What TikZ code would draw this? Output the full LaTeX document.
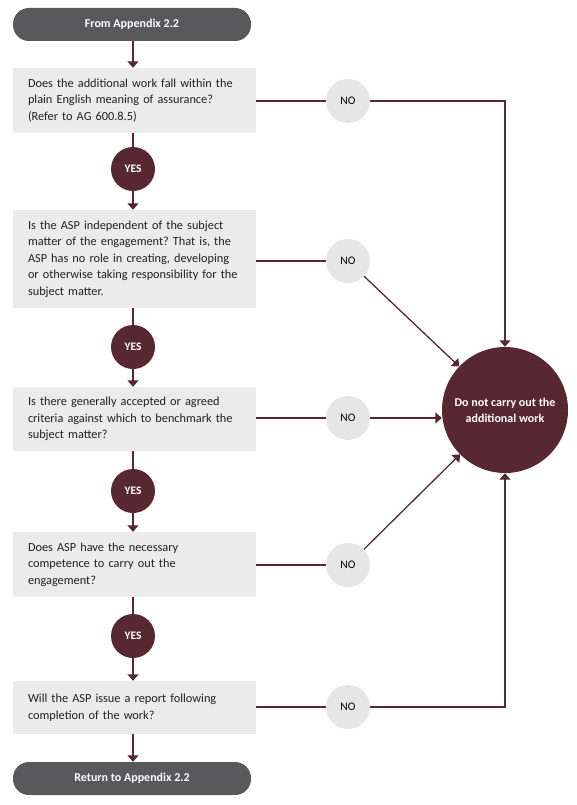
\documentclass[tikz,border=0pt]{standalone}
\usepackage{fontspec}
\setmainfont{Carlito}
\frenchspacing
\usetikzlibrary{arrows.meta,positioning}
\definecolor{maroon}{RGB}{88,40,50}
\definecolor{pillgrey}{RGB}{89,89,91}
\definecolor{boxgrey}{RGB}{235,235,235}
\definecolor{nogrey}{RGB}{230,230,230}
\definecolor{txt}{RGB}{35,31,32}
\tikzset{
  pill/.style={fill=pillgrey, rounded corners=16pt, minimum width=238pt, minimum height=33pt,
    text=white, font=\bfseries\fontsize{12}{14}\selectfont, inner sep=0pt},
  qbox/.style={fill=boxgrey, minimum width=243pt, text width=213pt, align=left, inner sep=0pt,
    text=txt, font=\fontsize{12.3}{16.5}\selectfont},
  yesc/.style={circle, fill=maroon, minimum size=44pt, inner sep=0pt, text=white,
    font=\bfseries\fontsize{11.5}{13}\selectfont},
  noc/.style={circle, fill=nogrey, minimum size=44pt, inner sep=0pt, text=black,
    font=\fontsize{11.5}{13}\selectfont},
  endc/.style={circle, fill=maroon, minimum size=126pt, inner sep=0pt, text=white, align=center,
    font=\bfseries\fontsize{12}{16}\selectfont},
  link/.style={draw=maroon, line width=1.3pt},
  arr/.style={link, -{Triangle[width=11pt,length=6.5pt]}}
}
\begin{document}
\begin{tikzpicture}[x=1pt,y=-1pt]
\useasboundingbox (0,0) rectangle (576,805);
% nodes
\node[pill] (start) at (132,24.5) {From Appendix 2.2};
\node[qbox, minimum height=65pt] (q1) at (134.5,100.5) {Does the additional work fall within the\\plain English meaning of assurance?\\(Refer to AG 600.8.5)};
\node[qbox, minimum height=98pt] (q2) at (134.5,259) {Is the ASP independent of the subject\\matter of the engagement? That is, the\\ASP has no role in creating, developing\\or otherwise taking responsibility for the\\subject matter.};
\node[qbox, minimum height=64pt] (q3) at (134.5,419) {Is there generally accepted or agreed\\criteria against which to benchmark the\\subject matter?};
\node[qbox, minimum height=65pt] (q4) at (134.5,564.5) {Does ASP have the necessary\\competence to carry out the\\engagement?};
\node[qbox, minimum height=53pt] (q5) at (134.5,707.5) {Will the ASP issue a report following\\completion of the work?};
\node[pill] (finish) at (132,778.5) {Return to Appendix 2.2};

\node[yesc] (y1) at (133,169) {YES};
\node[yesc] (y2) at (133,347) {YES};
\node[yesc] (y3) at (133,491) {YES};
\node[yesc] (y4) at (133,636) {YES};

\node[noc] (n1) at (348,101) {NO};
\node[noc] (n2) at (348,261) {NO};
\node[noc] (n3) at (348,418) {NO};
\node[noc] (n4) at (348,565) {NO};
\node[noc] (n5) at (348,707) {NO};

\node[endc] (stop) at (505,410) {Do not carry out the\\additional work};

% vertical flow
\draw[arr] (start.south -| y1) -- (q1.north -| y1);
\draw[link] (q1.south -| y1) -- (y1.north);
\draw[arr] (y1.south) -- (q2.north -| y1);
\draw[link] (q2.south -| y2) -- (y2.north);
\draw[arr] (y2.south) -- (q3.north -| y2);
\draw[link] (q3.south -| y3) -- (y3.north);
\draw[arr] (y3.south) -- (q4.north -| y3);
\draw[link] (q4.south -| y4) -- (y4.north);
\draw[arr] (y4.south) -- (q5.north -| y4);
\draw[arr] (q5.south -| y4) -- (finish.north -| y4);

% NO branches
\draw[link] (q1.east |- n1) -- (n1.west);
\draw[link] (q2.east |- n2) -- (n2.west);
\draw[link] (q3.east |- n3) -- (n3.west);
\draw[link] (q4.east |- n4) -- (n4.west);
\draw[link] (q5.east |- n5) -- (n5.west);

\draw[arr] (n1.east) -| (stop.north);
\draw[arr] (n2) -- (stop);
\draw[arr] (n3.east) -- (n3.east -| stop.west);
\draw[arr] (n4) -- (stop);
\draw[arr] (n5.east) -| (stop.south);
\end{tikzpicture}
\end{document}
